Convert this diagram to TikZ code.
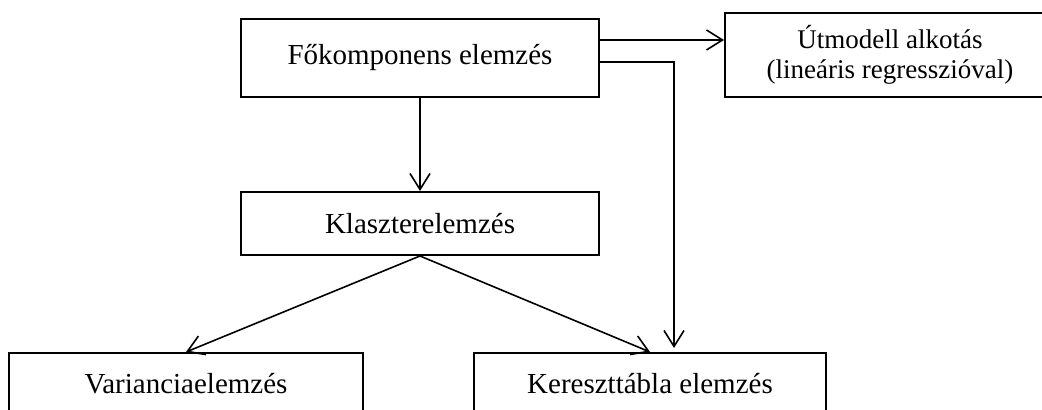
\documentclass[tikz,border=0pt]{standalone}
\usepackage{fontspec}
\setmainfont{Liberation Serif}
\usetikzlibrary{arrows.meta,calc}
\begin{document}
\begin{tikzpicture}[x=0.5pt,y=-0.5pt,
  box/.style={draw,line width=1pt,rectangle,inner sep=0pt,align=center,
    font=\fontsize{14.5pt}{15pt}\selectfont},
  arr/.style={line width=0.8pt,-{Straight Barb[length=8pt,width=10pt,line width=0.8pt]}}]
\clip (0,0) rectangle (1042,410);
\node[box,minimum width=179pt,minimum height=39pt] (fo) at (420,58) {Főkomponens elemzés};
\node[box,minimum width=165pt,minimum height=42pt,font=\fontsize{13.5pt}{15pt}\selectfont] (ut) at (890,55) {Útmodell alkotás\\(lineáris regresszióval)};
\node[box,minimum width=179pt,minimum height=31.5pt] (kl) at (420,223.5) {Klaszterelemzés};
\node[box,minimum width=177pt,minimum height=31pt] (va) at (186,384) {Varianciaelemzés};
\node[box,minimum width=176pt,minimum height=31pt] (ke) at (650,384) {Kereszttábla elemzés};
\draw[arr] ($(fo.east)+(0,-18)$) -- ($(ut.west)+(0,-15)$);
\draw[arr] ($(fo.east)+(0,4)$) -| ($(ke.north)+(24,-4)$);
\draw[arr] (fo.south) -- (kl.north);
\draw[arr] (kl.south) -- (va.north);
\draw[arr] (kl.south) -- (ke.north);
\end{tikzpicture}
\end{document}
